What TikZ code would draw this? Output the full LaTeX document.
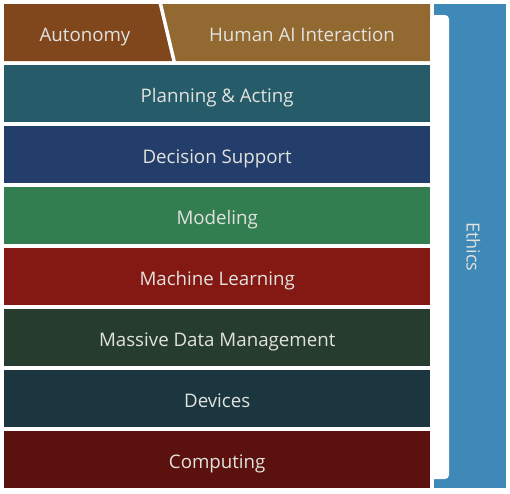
\documentclass[tikz,border=0pt]{standalone}
\usepackage{fontspec}
\setmainfont{Open Sans}
\definecolor{cAuto}{RGB}{128,70,28}
\definecolor{cHuman}{RGB}{147,105,50}
\definecolor{cPlan}{RGB}{38,91,106}
\definecolor{cDec}{RGB}{36,62,107}
\definecolor{cMod}{RGB}{51,126,80}
\definecolor{cML}{RGB}{132,25,20}
\definecolor{cData}{RGB}{38,60,47}
\definecolor{cDev}{RGB}{27,54,62}
\definecolor{cComp}{RGB}{91,17,13}
\definecolor{cEth}{RGB}{62,137,184}
\definecolor{cTxt}{RGB}{226,226,222}
\begin{document}
\begin{tikzpicture}[x=1pt,y=-1pt,
  txt/.style={text=cTxt,font=\fontsize{18.7}{20}\selectfont,text height=18pt,text depth=0pt},
  lbl/.style={txt,inner sep=0pt},
  layer/.style={txt,draw=none,minimum width=426pt,minimum height=57pt,inner sep=0pt,anchor=north west}]
\useasboundingbox (0,0) rectangle (510,493);
% top split bar
\fill[cAuto] (4,4) -- (160,4) -- (174,61) -- (4,61) -- cycle;
\fill[cHuman] (160,4) -- (430,4) -- (430,61) -- (174,61) -- cycle;
\draw[white,line width=3.5pt] (160,2) -- (174.5,63);
\node[lbl] (auto) at (85,32.5) {Autonomy};
\node[lbl] (hai) at (302,32.5) {Human AI Interaction};
% layers
\node[layer,fill=cPlan] (plan) at (4,65) {Planning \& Acting};
\node[layer,fill=cDec] (dec) at (4,126) {Decision Support};
\node[layer,fill=cMod] (mod) at (4,187) {Modeling};
\node[layer,fill=cML] (ml) at (4,248) {Machine Learning};
\node[layer,fill=cData] (data) at (4,309) {Massive Data Management};
\node[layer,fill=cDev] (dev) at (4,370) {Devices};
\node[layer,fill=cComp] (comp) at (4,431) {Computing};
% ethics
\fill[cEth] (434,4) rectangle (506,488);
\fill[white,rounded corners=4pt] (430,15) rectangle (449,479);
\node[text=cTxt,font=\fontsize{18}{20}\selectfont,inner sep=0pt,rotate=-90,anchor=base] (eth) at (466.5,247) {Ethics};
\end{tikzpicture}
\end{document}
